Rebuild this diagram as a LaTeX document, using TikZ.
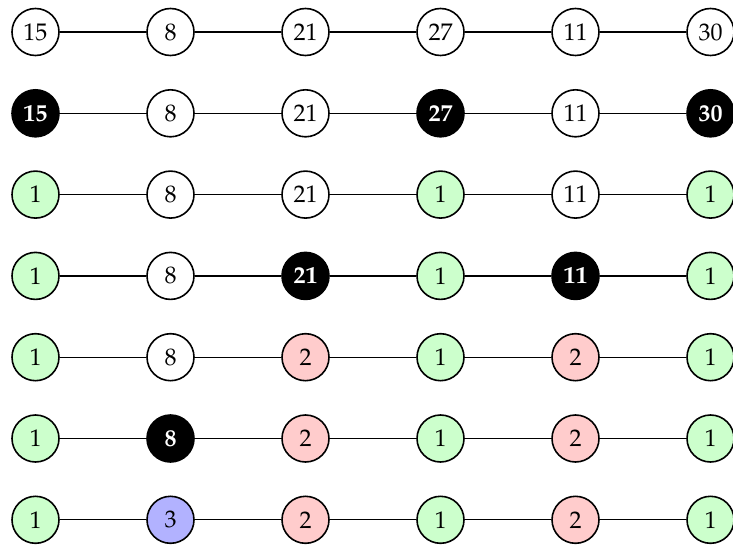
\documentclass[tikz,border=0pt]{standalone}
\usepackage[T1]{fontenc}
\usepackage{mathpazo}
\begin{document}
\begin{tikzpicture}[x=0.5pt,y=-0.5pt,
  vnode/.style={circle,draw,line width=0.8pt,minimum size=23.5pt,inner sep=0pt,font=\large},
  vplain/.style={vnode,fill=white},
  vmark/.style={vnode,fill=black,text=white,font=\large\bfseries},
  vone/.style={vnode,fill=green!20},
  vtwo/.style={vnode,fill=red!20},
  vthree/.style={vnode,fill=blue!30}]
\useasboundingbox (0,0) rectangle (733,545);
% one row per step
\foreach \row [count=\j from 0] in {
  {15/vplain,8/vplain,21/vplain,27/vplain,11/vplain,30/vplain},
  {15/vmark,8/vplain,21/vplain,27/vmark,11/vplain,30/vmark},
  {1/vone,8/vplain,21/vplain,1/vone,11/vplain,1/vone},
  {1/vone,8/vplain,21/vmark,1/vone,11/vmark,1/vone},
  {1/vone,8/vplain,2/vtwo,1/vone,2/vtwo,1/vone},
  {1/vone,8/vmark,2/vtwo,1/vone,2/vtwo,1/vone},
  {1/vone,3/vthree,2/vtwo,1/vone,2/vtwo,1/vone}}
  \foreach \v/\s [count=\i from 0] in \row
    \node[\s] (n\j\i) at (35.5+135*\i,32+81.3*\j) {\v};
\foreach \j in {0,...,6} \foreach \i [count=\k] in {0,...,4}
  \draw[line width=0.6pt] (n\j\i) -- (n\j\k);
\end{tikzpicture}
\end{document}
